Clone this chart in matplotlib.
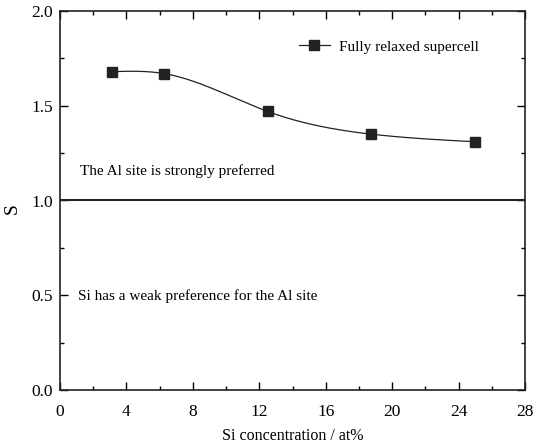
import numpy as np
import matplotlib
matplotlib.use('Agg')
import matplotlib.pyplot as plt
from matplotlib.ticker import MultipleLocator

# data
si_conc = [3.125, 6.25, 12.5, 18.75, 25.0]
s_value = [1.68, 1.67, 1.47, 1.35, 1.31]
x_ticks = [0, 4, 8, 12, 16, 20, 24, 28]
y_ticks = [0.0, 0.5, 1.0, 1.5, 2.0]


def natural_spline(x, y, xs):
    # plain natural cubic spline, only used to draw the smooth connecting line
    x = np.asarray(x, float)
    y = np.asarray(y, float)
    n = len(x)
    h = np.diff(x)
    A = np.zeros((n, n))
    b = np.zeros(n)
    A[0, 0] = A[-1, -1] = 1
    for i in range(1, n - 1):
        A[i, i - 1] = h[i - 1]
        A[i, i] = 2 * (h[i - 1] + h[i])
        A[i, i + 1] = h[i]
        b[i] = 3 * ((y[i + 1] - y[i]) / h[i] - (y[i] - y[i - 1]) / h[i - 1])
    c = np.linalg.solve(A, b)
    out = np.empty_like(xs)
    for k, xv in enumerate(xs):
        i = min(max(np.searchsorted(x, xv) - 1, 0), n - 2)
        d = xv - x[i]
        bi = (y[i + 1] - y[i]) / h[i] - h[i] * (2 * c[i] + c[i + 1]) / 3
        di = (c[i + 1] - c[i]) / (3 * h[i])
        out[k] = y[i] + bi * d + c[i] * d ** 2 + di * d ** 3
    return out


plt.rcParams['font.family'] = ['Liberation Serif', 'DejaVu Serif']
plt.rcParams['font.size'] = 11

fig = plt.figure(figsize=(5.34, 4.44), dpi=100)
ax = fig.add_axes([60 / 534, 1 - 390 / 444, 465 / 534, 379 / 444])

xs = np.linspace(si_conc[0], si_conc[-1], 200)
ax.plot(xs, natural_spline(si_conc, s_value, xs), color='#222222', lw=0.9)
ax.plot(si_conc, s_value, ls='none', marker='s', ms=6.5, color='#222222')
# legend handle: line with square marker
ax.plot([], [], color='#222222', lw=0.9, marker='s', ms=6.5, label='Fully relaxed supercell')

ax.axhline(1.0, color='#222222', lw=1.5)

ax.text(1.2, 1.155, 'The Al site is strongly preferred', fontsize=11, va='center')
ax.text(1.1, 0.495, 'Si has a weak preference for the Al site', fontsize=11, va='center')

ax.set_xlim(0, 28)
ax.set_ylim(0, 2.0)
ax.set_xticks(x_ticks)
ax.set_yticks(y_ticks)
ax.set_yticklabels(['%.1f' % v for v in y_ticks])
ax.xaxis.set_minor_locator(MultipleLocator(2))
ax.yaxis.set_minor_locator(MultipleLocator(0.25))
ax.tick_params(which='both', direction='in', top=True, right=True, width=1.0)
ax.tick_params(which='major', length=6, labelsize=12.5)
ax.tick_params(axis='x', which='major', pad=10)
ax.tick_params(axis='y', which='major', pad=5)
ax.tick_params(which='minor', length=3)
for sp in ax.spines.values():
    sp.set_linewidth(1.2)
    sp.set_color('#222222')

ax.set_xlabel('Si concentration / at%', labelpad=6, fontsize=11.5)
ax.set_ylabel('S', fontsize=14)
ax.yaxis.set_label_coords(-0.085, 0.48)

ax.legend(loc='upper right', bbox_to_anchor=(0.93, 0.96), frameon=False,
          handlelength=2.0, handletextpad=0.6, fontsize=11)

fig.savefig('out.png', dpi=100)
